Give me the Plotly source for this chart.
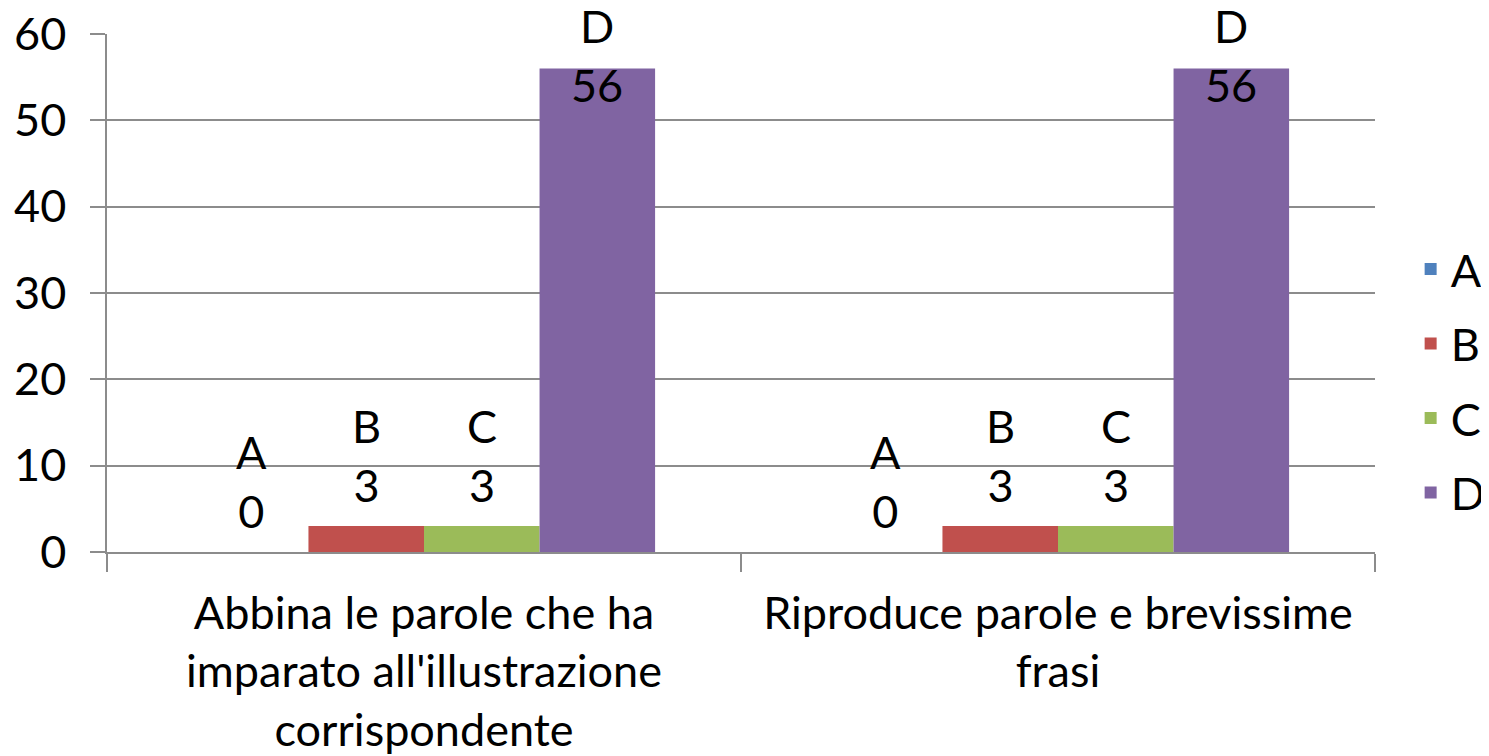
import plotly.graph_objects as go

categories = ["Abbina le parole che ha<br>imparato all'illustrazione<br>corrispondente",
              "Riproduce parole e brevissime<br>frasi"]
series = ["A", "B", "C", "D"]
values_a = [0, 0]
values_b = [3, 3]
values_c = [3, 3]
values_d = [56, 56]
colors = ["#4F81BD", "#C0504D", "#9BBB59", "#8064A2"]

all_values = [values_a, values_b, values_c, values_d]
font = "Lato, Calibri, sans-serif"

fig = go.Figure()
for name, vals, col in zip(series, all_values, colors):
    fig.add_trace(go.Bar(x=categories, y=vals, name=name, marker_color=col,
                         marker_line_width=0, legendgroup=name))

# data labels (Excel style "series / value"), kept inside the chart area
offsets = [-172.5, -57.5, 57.5, 172.5]
for name, vals, dx in zip(series, all_values, offsets):
    for cat, v in zip(categories, vals):
        fig.add_annotation(x=cat, y=min(v, 49.3), text=f"{name}<br>{v}",
                           showarrow=False, xshift=dx, yshift=12, yanchor="bottom",
                           font=dict(family=font, size=45, color="black"))

fig.update_layout(
    width=1489, height=756,
    paper_bgcolor="white", plot_bgcolor="white",
    margin=dict(l=99, r=122, t=26, b=212, autoexpand=False),
    barmode="group", bargap=0.271, bargroupgap=0,
    font=dict(family=font, size=45, color="black"),
    legend=dict(xref="container", yref="container", x=0.942, y=0.507,
                xanchor="left", yanchor="middle",
                tracegroupgap=13, font=dict(size=45)),
    showlegend=True,
)
fig.update_yaxes(range=[0, 60], dtick=10, showgrid=True, gridcolor="#8c8c8c", gridwidth=1.5,
                 showline=True, linecolor="#8c8c8c", linewidth=1.5,
                 ticks="outside", ticklen=15, tickcolor="#8c8c8c", tickwidth=1.5,
                 ticklabelstandoff=15, ticklabeloverflow="allow", zeroline=False)
fig.update_xaxes(showline=True, linecolor="#8c8c8c", linewidth=1.5,
                 ticks="outside", tickson="boundaries", ticklen=18,
                 tickcolor="#8c8c8c", tickwidth=1.5, ticklabelstandoff=21)

fig.write_html("out.html")
